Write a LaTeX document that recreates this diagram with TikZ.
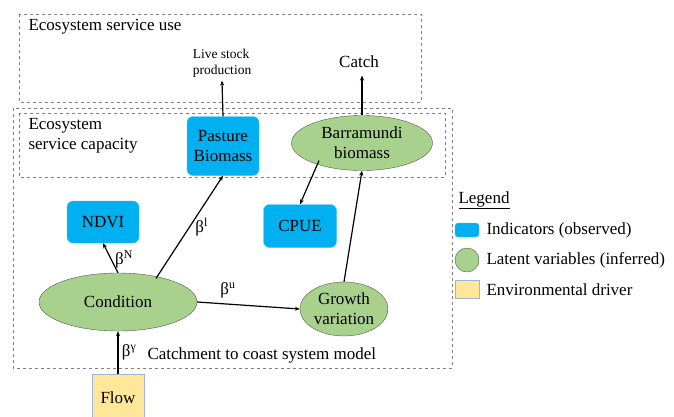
\documentclass[tikz,border=0pt]{standalone}
\usepackage{fontspec}
\setmainfont{Liberation Serif}
\usetikzlibrary{shapes.geometric, arrows.meta, positioning, calc}

\definecolor{indblue}{HTML}{00B0F0}
\definecolor{latgreen}{HTML}{A9D18E}
\definecolor{envyellow}{HTML}{FFE699}
\definecolor{drvedge}{HTML}{9DB3D8}

\tikzset{
    indicator/.style={draw=indblue!70!white, fill=indblue, rounded corners=6pt, inner sep=0pt, align=center},
    latent/.style={ellipse, draw=black!55!latgreen, fill=latgreen, inner sep=0pt, align=center},
    driver/.style={draw=drvedge, fill=envyellow, inner sep=0pt},
    region/.style={draw=gray, dashed, line width=0.6pt},
    link/.style={-{Stealth[length=5pt, width=4pt]}, line width=1.2pt},
    txt/.style={font=\fontsize{17}{20}\selectfont}
}

\begin{document}
\begin{tikzpicture}[x=1pt, y=-1pt, txt]
        \clip (0,0) rectangle (674,416);
        \fill[white] (0,0) rectangle (674,416);

        % Rahmen
        \draw[region] (19,14) rectangle (421,102);
        \draw[region] (13,108) rectangle (452,368);
        \draw[region] (19,113) rectangle (445,177);
        \node[anchor=west] at (25,27) {Ecosystem service use};
        \node[anchor=north west, align=left] at (25,115) {Ecosystem\\service capacity};
        \node[anchor=west] (modell) at (144,355) {Catchment to coast system model};

        % Nutzung
        \node[font=\fontsize{13.5}{16}\selectfont, align=left] (livestock) at (222,63) {Live stock\\production};
        \node (catch) at (359,62) {Catch};

        % Indikatoren
        \node[indicator, minimum width=72pt, minimum height=59pt] (pasture) at (223,146) {Pasture\\Biomass};
        \node[indicator, minimum width=72pt, minimum height=42pt] (ndvi) at (103,222) {NDVI};
        \node[indicator, minimum width=73pt, minimum height=43pt] (cpue) at (300,226) {CPUE};

        % Latente Variablen
        \node[latent, minimum width=141pt, minimum height=55pt] (barra) at (362,143) {Barramundi\\biomass};
        \node[latent, minimum width=158pt, minimum height=58pt] (condition) at (118,302) {Condition};
        \node[latent, minimum width=88pt, minimum height=54pt] (growth) at (344,309) {Growth\\variation};

        % Treiber
        \node[driver, minimum width=52pt, minimum height=50pt, anchor=north] (flow) at (118,374) {};
        \node at (118,398) {Flow};

        % Pfeile
        \draw[link] (flow.north) -- node[right, pos=0.5] {β\textsuperscript{γ}} (condition.south);
        \draw[link] (condition.north) -- node[right, pos=0.45] {β\textsuperscript{N}} (ndvi.south);
        \draw[link] (condition.north east) ++(-18,-3) coordinate (c1) -- node[right, pos=0.5, xshift=2pt] {β\textsuperscript{l}} (pasture.south);
        \draw[link] (condition.east) -- node[above, pos=0.3, yshift=2pt] {β\textsuperscript{u}} (growth.west);
        \draw[link] (growth.north) -- (barra.south);
        \draw[link] (barra.south west) ++(7,-2) coordinate (b1) -- (cpue.north);
        \draw[link] (pasture.north) -- (livestock.south);
        \draw[link] (barra.north) -- ($(catch.south)+(3,4)$);

        % Legende
        \node[anchor=west] at (455,200) {\underline{Legend}};
        \node[indicator, rounded corners=3pt, minimum width=24pt, minimum height=14pt] (legind) at (467,230) {};
        \node[latent, minimum width=24pt, minimum height=24pt] (leglat) at (467,260) {};
        \node[driver, minimum width=24pt, minimum height=18pt] (legdrv) at (467,289) {};
        \node[anchor=west] at (483,230) {Indicators (observed)};
        \node[anchor=west] at (483,260) {Latent variables (inferred)};
        \node[anchor=west] at (483,290) {Environmental driver};
\end{tikzpicture}
\end{document}
